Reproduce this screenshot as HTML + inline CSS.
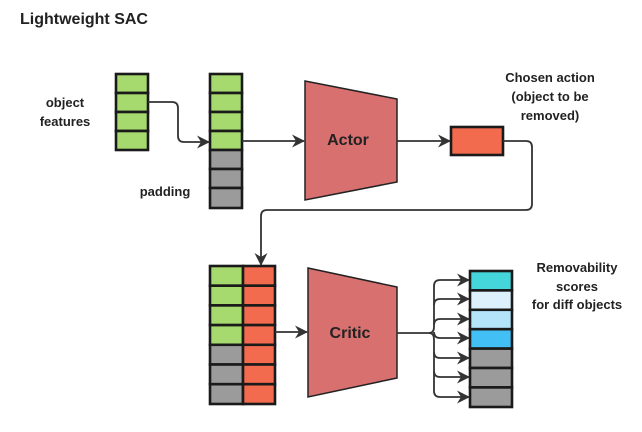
<!DOCTYPE html>
<html><head><meta charset="utf-8"><style>
html,body{margin:0;padding:0;background:#fff}
svg{display:block}
text{font-family:"Liberation Sans","DejaVu Sans",sans-serif;font-weight:bold;fill:#222}
</style></head><body>
<svg width="642" height="432" viewBox="0 0 642 432" xmlns="http://www.w3.org/2000/svg">
<defs>
<marker id="a" markerWidth="13" markerHeight="13" refX="12" refY="6.5" orient="auto" markerUnits="userSpaceOnUse">
<path d="M0,0 L13,6.5 L0,13 L4,6.5 Z" fill="#333"/></marker>
</defs>
<text x="20" y="24" font-size="16">Lightweight SAC</text>
<g font-size="13" text-anchor="middle">
<text x="65" y="107">object</text><text x="65" y="126">features</text>
<text x="165" y="196">padding</text>
<text x="550" y="82">Chosen action</text><text x="550" y="101">(object to be</text><text x="550" y="120">removed)</text>
<text x="577" y="272">Removability</text><text x="577" y="291">scores</text><text x="577" y="309">for diff objects</text>
</g>
<g stroke="#1a1a1a" stroke-width="2.6">
<g fill="#a6da6e">
<rect x="116" y="74" width="32" height="19"/><rect x="116" y="93" width="32" height="19"/><rect x="116" y="112" width="32" height="19"/><rect x="116" y="131" width="32" height="19"/>
<rect x="210" y="74" width="32" height="19"/><rect x="210" y="93" width="32" height="19"/><rect x="210" y="112" width="32" height="19"/><rect x="210" y="131" width="32" height="19"/>
</g>
<g fill="#9b9b9b">
<rect x="210" y="150" width="32" height="19"/><rect x="210" y="169" width="32" height="19"/><rect x="210" y="188" width="32" height="20"/>
</g>
<rect x="451" y="127" width="52" height="28" fill="#f26b4f"/>
<g fill="#a6da6e">
<rect x="210" y="266" width="33" height="19.7"/><rect x="210" y="285.7" width="33" height="19.7"/><rect x="210" y="305.4" width="33" height="19.7"/><rect x="210" y="325.1" width="33" height="19.7"/>
</g>
<g fill="#9b9b9b">
<rect x="210" y="344.8" width="33" height="19.7"/><rect x="210" y="364.5" width="33" height="19.7"/><rect x="210" y="384.2" width="33" height="19.8"/>
</g>
<g fill="#f26b4f">
<rect x="243" y="266" width="32" height="19.7"/><rect x="243" y="285.7" width="32" height="19.7"/><rect x="243" y="305.4" width="32" height="19.7"/><rect x="243" y="325.1" width="32" height="19.7"/><rect x="243" y="344.8" width="32" height="19.7"/><rect x="243" y="364.5" width="32" height="19.7"/><rect x="243" y="384.2" width="32" height="19.8"/>
</g>
<rect x="470" y="271" width="42" height="19.4" fill="#45d6dc"/>
<rect x="470" y="290.4" width="42" height="19.4" fill="#ddf1fc"/>
<rect x="470" y="309.8" width="42" height="19.4" fill="#b4e4fa"/>
<rect x="470" y="329.2" width="42" height="19.4" fill="#42bff5"/>
<rect x="470" y="348.6" width="42" height="19.4" fill="#9b9b9b"/>
<rect x="470" y="368" width="42" height="19.4" fill="#9b9b9b"/>
<rect x="470" y="387.4" width="42" height="19.6" fill="#9b9b9b"/>
</g>
<polygon points="305,81 397,99 397,182 305,200" fill="#d97070" stroke="#222" stroke-width="1.5"/>
<polygon points="308,268 397,287 397,378 308,397" fill="#d97070" stroke="#222" stroke-width="1.5"/>
<text x="348" y="145" font-size="16" text-anchor="middle">Actor</text>
<text x="350" y="338" font-size="16" text-anchor="middle">Critic</text>
<g fill="none" stroke="#333" stroke-width="1.8">
<path d="M148,102 H172 Q178,102 178,108 V136 Q178,142 184,142 H209" marker-end="url(#a)"/>
<path d="M242,141 H304" marker-end="url(#a)"/>
<path d="M397,141 H450" marker-end="url(#a)"/>
<path d="M503,141 H526 Q532,141 532,147 V204 Q532,210 526,210 H267 Q261,210 261,216 V265" marker-end="url(#a)"/>
<path d="M275,332 H307" marker-end="url(#a)"/>
<path d="M397,333 H429"/>
<path d="M429,333 Q434,333 434,327 V286 Q434,280 440,280 H469" marker-end="url(#a)"/>
<path d="M429,333 Q434,333 434,339 V391 Q434,397 440,397 H469" marker-end="url(#a)"/>
<path d="M434,305 Q434,299 440,299 H469" marker-end="url(#a)"/>
<path d="M434,325 Q434,319 440,319 H469" marker-end="url(#a)"/>
<path d="M434,332 Q434,338 440,338 H469" marker-end="url(#a)"/>
<path d="M434,352 Q434,358 440,358 H469" marker-end="url(#a)"/>
<path d="M434,371 Q434,377 440,377 H469" marker-end="url(#a)"/>
</g>
</svg>
</body></html>
